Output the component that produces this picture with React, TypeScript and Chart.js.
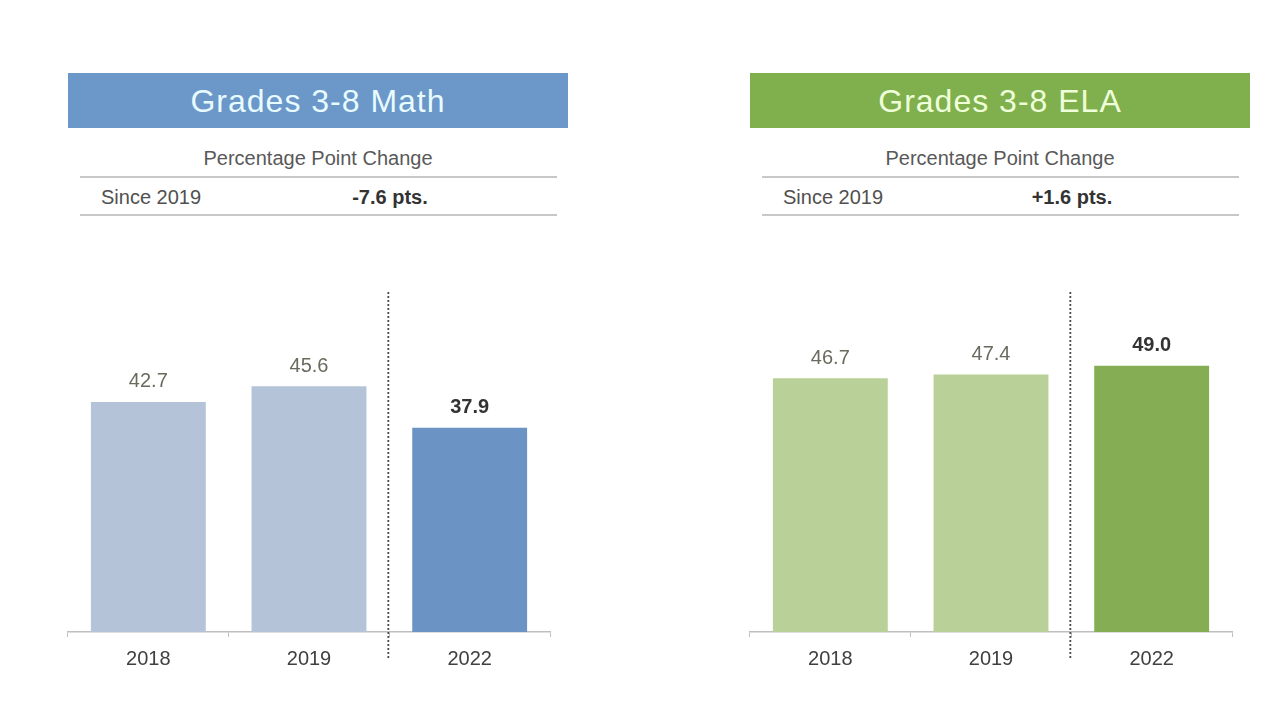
import React, { useEffect, useRef } from "react";
import { Chart, registerables } from "chart.js";

Chart.register(...registerables);

const years = ["2018", "2019", "2022"];
const mathValues = [42.7, 45.6, 37.9];
const elaValues = [46.7, 47.4, 49.0];
const mathTitle = "Grades 3-8 Math";
const elaTitle = "Grades 3-8 ELA";
const changeHeader = "Percentage Point Change";
const sinceLabel = "Since 2019";
const mathChange = "-7.6 pts.";
const elaChange = "+1.6 pts.";

const FONT = "'Liberation Sans', Arial, Helvetica, sans-serif";

type PanelProps = {
  left: number;
  title: string;
  headerColor: string;
  headerTextColor: string;
  change: string;
  values: number[];
  colors: string[];
  yMax: number;
};

function BarChart({ values, colors, yMax }: { values: number[]; colors: string[]; yMax: number }) {
  const ref = useRef<HTMLCanvasElement | null>(null);
  useEffect(() => {
    if (!ref.current) return;
    const valueLabels = {
      id: "valueLabels",
      afterDatasetsDraw(chart: any) {
        const ctx = chart.ctx;
        const meta = chart.getDatasetMeta(0);
        ctx.save();
        ctx.textAlign = "center";
        ctx.textBaseline = "middle";
        meta.data.forEach((bar: any, i: number) => {
          const last = i === values.length - 1;
          ctx.font = (last ? "bold " : "") + "20px " + FONT;
          ctx.fillStyle = last ? "#333333" : "#6a6a5e";
          ctx.fillText(values[i].toFixed(1), bar.x, bar.y - 20);
        });
        ctx.restore();
      },
    };
    const divider = {
      id: "divider",
      afterDatasetsDraw(chart: any) {
        const ctx = chart.ctx;
        const xs = chart.scales.x;
        const x = (xs.getPixelForValue(1) + xs.getPixelForValue(2)) / 2 - 1;
        const area = chart.chartArea;
        ctx.save();
        ctx.strokeStyle = "#4a4a4a";
        ctx.lineWidth = 1.8;
        ctx.setLineDash([2, 2]);
        ctx.beginPath();
        ctx.moveTo(x, area.top);
        ctx.lineTo(x, area.bottom + 28);
        ctx.stroke();
        ctx.restore();
      },
    };
    const chart = new Chart(ref.current, {
      type: "bar",
      data: {
        labels: years,
        datasets: [
          {
            data: values,
            backgroundColor: colors,
            borderWidth: 0,
            barPercentage: 0.715,
            categoryPercentage: 1.0,
          },
        ],
      },
      options: {
        animation: false,
        responsive: false,
        devicePixelRatio: 1,
        layout: { padding: { left: 8, right: 10, top: 12, bottom: 0 } },
        plugins: { legend: { display: false }, tooltip: { enabled: false } },
        scales: {
          x: {
            afterFit: (scale: any) => {
              scale.height = 48;
            },
            grid: {
              display: true,
              drawOnChartArea: false,
              drawTicks: true,
              tickLength: 5,
              color: "#bfbfbf",
              offset: true,
            },
            border: { display: true, color: "#bfbfbf", width: 1.5 },
            ticks: {
              color: "#404040",
              font: { size: 20, family: FONT },
              padding: 10,
            },
          },
          y: { display: false, min: 0, max: yMax },
        },
      },
      plugins: [valueLabels, divider],
    });
    return () => chart.destroy();
  }, [values, colors, yMax]);
  return (
    <canvas ref={ref} width={500} height={400} style={{ width: 500, height: 400, display: "block" }} />
  );
}

function Panel({ left, title, headerColor, headerTextColor, change, values, colors, yMax }: PanelProps) {
  const abs = (x: number, y: number, w: number, h: number): React.CSSProperties => ({
    position: "absolute",
    left: x,
    top: y,
    width: w,
    height: h,
  });
  return (
    <>
      <div
        style={{
          ...abs(left, 73, 500, 55),
          background: headerColor,
          color: headerTextColor,
          fontSize: 32,
          letterSpacing: 1,
          lineHeight: "56px",
          textAlign: "center",
        }}
      >
        {title}
      </div>
      <div
        style={{
          ...abs(left, 146, 500, 24),
          color: "#595959",
          fontSize: 20,
          lineHeight: "24px",
          textAlign: "center",
        }}
      >
        {changeHeader}
      </div>
      <div style={{ ...abs(left + 12, 176, 477, 2), background: "#c8c8c8" }} />
      <div style={{ ...abs(left + 33, 185, 200, 24), color: "#505050", fontSize: 20, lineHeight: "24px" }}>
        {sinceLabel}
      </div>
      <div
        style={{
          ...abs(left + 222, 185, 200, 24),
          color: "#333333",
          fontSize: 20,
          fontWeight: "bold",
          lineHeight: "24px",
          textAlign: "center",
        }}
      >
        {change}
      </div>
      <div style={{ ...abs(left + 12, 214, 477, 2), background: "#c8c8c8" }} />
      <div style={abs(left - 8, 280, 500, 400)}>
        <BarChart values={values} colors={colors} yMax={yMax} />
      </div>
    </>
  );
}

export default function App() {
  return (
    <div
      style={{
        position: "absolute",
        left: 0,
        top: 0,
        width: 1279,
        height: 720,
        background: "#ffffff",
        fontFamily: FONT,
        overflow: "hidden",
      }}
    >
      <Panel
        left={68}
        title={mathTitle}
        headerColor="#6b97c9"
        headerTextColor="#e8fbff"
        change={mathChange}
        values={mathValues}
        colors={["#b4c3d8", "#b4c3d8", "#6b94c4"]}
        yMax={63.1}
      />
      <Panel
        left={750}
        title={elaTitle}
        headerColor="#80b04e"
        headerTextColor="#eeffd9"
        change={elaChange}
        values={elaValues}
        colors={["#b9d098", "#b9d098", "#85ae54"]}
        yMax={62.6}
      />
    </div>
  );
}
